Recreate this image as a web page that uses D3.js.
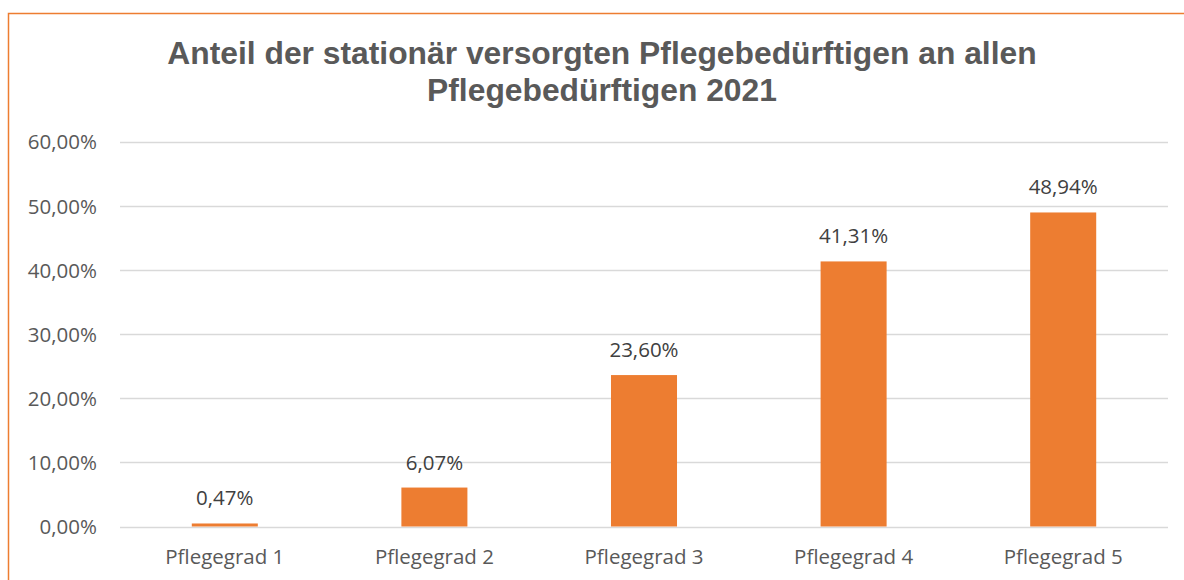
<!DOCTYPE html>
<html><head><meta charset="utf-8">
<script src="https://cdn.jsdelivr.net/npm/d3@7"></script>
<style>html,body{margin:0;padding:0;background:#fff;overflow:hidden}</style>
</head><body>
<svg id="c" width="1184" height="580"></svg>
<script>
const categories = ["Pflegegrad 1","Pflegegrad 2","Pflegegrad 3","Pflegegrad 4","Pflegegrad 5"];
const values = [0.47, 6.07, 23.60, 41.31, 48.94];
const valueLabels = ["0,47%","6,07%","23,60%","41,31%","48,94%"];
const yTicks = [0,10,20,30,40,50,60];
const yTickLabels = ["0,00%","10,00%","20,00%","30,00%","40,00%","50,00%","60,00%"];
const titleLines = ["Anteil der stationär versorgten Pflegebedürftigen an allen","Pflegebedürftigen 2021"];

(function(){
const svg = d3.select("#c");
const pLeft = 120, pRight = 1168, pTop = 141.5, pBottom = 526.5;
const fontBody = "'Open Sans', 'Noto Sans', sans-serif";
const fs = 20.5;

svg.append("rect").attr("x",8.5).attr("y",13.5).attr("width",1187).attr("height",600)
  .attr("fill","#fff").attr("stroke","#ED7D31").attr("stroke-width",1.5);

const x = d3.scaleBand().domain(categories).range([pLeft,pRight]).paddingInner(0.685).paddingOuter(0.3425);
const y = d3.scaleLinear().domain([0,60]).range([pBottom,pTop]);

svg.append("g").selectAll("line").data(yTicks).join("line")
  .attr("x1",pLeft).attr("x2",pRight).attr("y1",d=>Math.round(y(d))+0.5).attr("y2",d=>Math.round(y(d))+0.5)
  .attr("stroke","#d9d9d9").attr("stroke-width",1.3);

const yAxis = d3.axisLeft(y).tickValues(yTicks).tickSize(0).tickPadding(0)
  .tickFormat((d,i)=>yTickLabels[i]);
const ga = svg.append("g").attr("transform",`translate(97,0)`).call(yAxis);
ga.select(".domain").remove();
ga.selectAll("text").attr("font-family",fontBody).attr("font-size",fs).attr("fill","#595959").attr("dy","0.36em");

svg.append("g").selectAll("rect").data(values).join("rect")
  .attr("x",(d,i)=>x(categories[i])).attr("width",x.bandwidth())
  .attr("y",d=>y(d)).attr("height",d=>y(0)-y(d)).attr("fill","#ED7D31");

svg.append("g").selectAll("text").data(values).join("text")
  .attr("x",(d,i)=>x(categories[i])+x.bandwidth()/2).attr("y",d=>y(d)-18)
  .attr("text-anchor","middle").attr("font-family",fontBody).attr("font-size",fs).attr("fill","#404040")
  .text((d,i)=>valueLabels[i]);

const xAxis = d3.axisBottom(x).tickSize(0).tickPadding(0);
const gx = svg.append("g").attr("transform",`translate(0,${pBottom})`).call(xAxis);
gx.select(".domain").remove();
gx.selectAll("text").attr("font-family",fontBody).attr("font-size",fs).attr("fill","#595959").attr("dy",0).attr("y",37);

svg.append("g").selectAll("text").data(titleLines).join("text")
  .attr("x",602).attr("y",(d,i)=>64+i*37).attr("text-anchor","middle")
  .attr("font-family","'Liberation Sans', Arial, sans-serif").attr("font-weight","bold")
  .attr("font-size",31.8).attr("fill","#595959").text(d=>d);
})();
</script>
</body></html>
